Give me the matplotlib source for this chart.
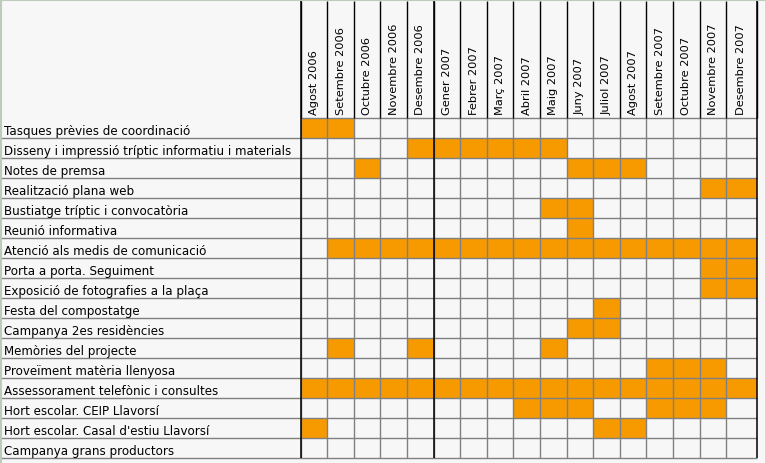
import matplotlib
matplotlib.use("Agg")
import matplotlib.pyplot as plt

# ---------------- data ----------------
months = ["Agost 2006", "Setembre 2006", "Octubre 2006", "Novembre 2006",
          "Desembre 2006", "Gener 2007", "Febrer 2007", "Març 2007",
          "Abril 2007", "Maig 2007", "Juny 2007", "Juliol 2007",
          "Agost 2007", "Setembre 2007", "Octubre 2007", "Novembre 2007",
          "Desembre 2007"]

tasks = ["Tasques prèvies de coordinació",
         "Disseny i impressió tríptic informatiu i materials",
         "Notes de premsa",
         "Realització plana web",
         "Bustiatge tríptic i convocatòria",
         "Reunió informativa",
         "Atenció als medis de comunicació",
         "Porta a porta. Seguiment",
         "Exposició de fotografies a la plaça",
         "Festa del compostatge",
         "Campanya 2es residències",
         "Memòries del projecte",
         "Proveïment matèria llenyosa",
         "Assessorament telefònic i consultes",
         "Hort escolar. CEIP Llavorsí",
         "Hort escolar. Casal d'estiu Llavorsí",
         "Campanya grans productors"]

# active month indices (into `months`) per task
active = [
    [0, 1],
    [4, 5, 6, 7, 8, 9],
    [2, 10, 11, 12],
    [15, 16],
    [9, 10],
    [10],
    [1, 2, 3, 4, 5, 6, 7, 8, 9, 10, 11, 12, 13, 14, 15, 16],
    [15, 16],
    [15, 16],
    [11],
    [10, 11],
    [1, 4, 9],
    [13, 14, 15],
    [0, 1, 2, 3, 4, 5, 6, 7, 8, 9, 10, 11, 12, 13, 14, 15, 16],
    [8, 9, 10, 13, 14, 15],
    [0, 11, 12],
    [],
]

# ---------------- style / layout ----------------
BG = "#f7f7f7"
ORANGE = "#f69a00"
GRID = "#808080"
FRAME = "#bccbbc"
W, H = 765, 464
X0 = 300.7          # left edge of month grid
COL_W = 26.6
LAST_COL_W = 30.4
Y0 = 119.3          # top of first task row
ROW_H = 20.0
FONT = "DejaVu Sans"

col_w = [COL_W] * (len(months) - 1) + [LAST_COL_W]
col_left = [X0 + sum(col_w[:i]) for i in range(len(months))]
x_right = col_left[-1] + col_w[-1]
row_top = [Y0 + i * ROW_H for i in range(len(tasks))]
y_bottom = row_top[-1] + ROW_H

fig = plt.figure(figsize=(W / 100, H / 100), dpi=100, facecolor=BG)
ax = fig.add_axes([0, 0, 1, 1])
ax.set_xlim(0, W)
ax.set_ylim(H, 0)
ax.axis("off")
ax.set_facecolor(BG)

# filled cells
for r, cols in enumerate(active):
    if not cols:
        continue
    ax.bar([col_left[c] for c in cols], ROW_H,
           width=[col_w[c] for c in cols], bottom=row_top[r],
           align="edge", color=ORANGE, linewidth=0, zorder=1)

# horizontal grid lines
ax.hlines(Y0, X0, x_right, color=GRID, lw=1.0, zorder=2)
for r in range(1, len(tasks) + 1):
    ax.hlines(Y0 + r * ROW_H, 0, x_right, color=GRID, lw=1.0, zorder=2)

# vertical grid lines in the body
for i, xl in enumerate(col_left):
    ax.vlines(xl, Y0, y_bottom, color=GRID, lw=1.0, zorder=2)
# vertical lines in the header
for xl in col_left + [x_right]:
    ax.vlines(xl, 2, Y0, color="black", lw=1.0, zorder=3)
# black separators
for xl in (X0, col_left[5], x_right):
    ax.vlines(xl, 2, y_bottom, color="black", lw=1.1, zorder=3)

# outer frame (top & left)
ax.hlines(0.5, 0, W, color=FRAME, lw=1.5, zorder=4)
ax.vlines(0.5, 0, H, color=FRAME, lw=1.5, zorder=4)

# header labels
for i, m in enumerate(months):
    ax.text(col_left[i] + col_w[i] / 2, 115, m, rotation=90,
            ha="center", va="bottom", fontsize=8.2, family=FONT, zorder=5)

# task labels
for r, t in enumerate(tasks):
    ax.text(4, row_top[r] + ROW_H / 2 + 1.8, t, ha="left", va="center",
            fontsize=8.6, family=FONT, zorder=5)

fig.savefig("out.png", dpi=100, facecolor=BG)
